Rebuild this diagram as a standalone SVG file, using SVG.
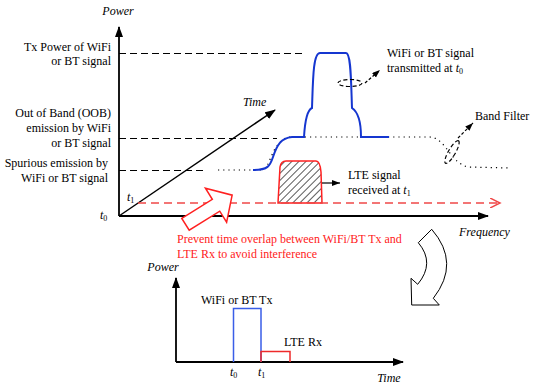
<svg xmlns="http://www.w3.org/2000/svg" width="540" height="390" viewBox="0 0 540 390">
<style>
text{font-family:"Liberation Serif","Times New Roman",serif;font-size:12px;fill:#000}
.it{font-style:italic}
.red{fill:#ff1a1a}
.sub{font-size:8px}
.dash{stroke:#000;stroke-width:1.2;stroke-dasharray:7 4;fill:none}
.dot{stroke:#000;stroke-width:1.2;stroke-dasharray:1.2 4;fill:none}
.axis{stroke:#000;stroke-width:1.8;fill:none}
</style>
<defs>
<marker id="ah" markerUnits="userSpaceOnUse" markerWidth="12" markerHeight="10" refX="10" refY="4" orient="auto"><path d="M0,0 L11,4 L0,8 Z" fill="#000"/></marker>
<marker id="ahs" markerUnits="userSpaceOnUse" markerWidth="10" markerHeight="8" refX="8" refY="3" orient="auto"><path d="M0,0 L8,3 L0,6 Z" fill="#000"/></marker>
<marker id="ahr" markerUnits="userSpaceOnUse" markerWidth="12" markerHeight="10" refX="10" refY="5" orient="auto"><path d="M0,0 L10,5 L0,10" fill="none" stroke="#f04848" stroke-width="1.5"/></marker>
<pattern id="hatch" patternUnits="userSpaceOnUse" width="5" height="5" patternTransform="rotate(45)"><rect width="5" height="5" fill="#fff"/><line x1="0" y1="0" x2="0" y2="5" stroke="#000" stroke-width="1.3"/></pattern>
</defs>
<rect width="540" height="390" fill="#fff"/>

<g id="levels">
<line class="dash" x1="119" y1="53.5" x2="303" y2="53.5"/>
<line class="dash" x1="119" y1="138.5" x2="277" y2="138.5"/>
<line class="dash" x1="119" y1="170.5" x2="207" y2="170.5"/>
</g>

<g id="band-filter">
<path class="dot" d="M218,170 L262,170 C271,169 271,140 290,137 L430,137 C446,138 450,163 468,167 L510,168"/>
<ellipse cx="452" cy="152" rx="13" ry="3.5" transform="rotate(-60 452 152)" class="dash" style="stroke-dasharray:4 2.5"/>
</g>

<g id="wifi-signal">
<path d="M253,170 C268,170 270,166 273,157 C277,145 281,138 292,137 L304,137 C305,120 307,110 312,108 C313,80 313,53 320,53 L346,53 C351,53 351,80 352,108 C358,112 361,120 361,137 L389,137" fill="none" stroke="#1536d0" stroke-width="2"/>
<ellipse cx="350" cy="83" rx="12" ry="3.5" class="dash" style="stroke-dasharray:4 2.5"/>
</g>

<g id="lte-signal">
<path d="M278,203 L280,167 Q281,161 286,161 L316,161 Q320,161 321,172 L322,203 Z" fill="url(#hatch)" stroke="#ff2020" stroke-width="1.5"/>
</g>

<g id="axes">
<line class="axis" x1="119" y1="216" x2="119" y2="27" marker-end="url(#ah)"/>
<line class="axis" x1="119" y1="216" x2="488" y2="216" marker-end="url(#ah)"/>
<line x1="119" y1="216" x2="275" y2="110" stroke="#000" stroke-width="1.5" marker-end="url(#ah)"/>
<line x1="138" y1="203" x2="500" y2="203" stroke="#f04848" stroke-width="1.5" stroke-dasharray="8 5" marker-end="url(#ahr)"/>
</g>

<g id="connectors">
<line x1="365" y1="83" x2="380" y2="70" stroke="#000" stroke-width="1.2" stroke-dasharray="3 2" marker-end="url(#ahs)"/>
<line x1="458" y1="138" x2="473" y2="123" stroke="#000" stroke-width="1.2" stroke-dasharray="3 2" marker-end="url(#ahs)"/>
<line x1="322" y1="183" x2="340" y2="183" stroke="#000" stroke-width="1.2" marker-end="url(#ahs)"/>
<polygon id="red-arrow" points="0,-7 36,-7 36,-20 55,0 36,20 36,7 0,7" transform="translate(185.5,224.3) rotate(-32)" fill="#fff" stroke="#ff2020" stroke-width="1.5"/>
<path id="curved-arrow" d="M431.7,229.3 Q460.9,263 433.3,298.3 L439.3,305 L411.7,305 L411,278.3 L417.7,284.3 Q435.4,263 418.3,242.7 Z" fill="#fff" stroke="#000" stroke-width="1"/>
</g>

<g id="labels">
<text class="it" x="118" y="15" text-anchor="middle">Power</text>
<text x="111" y="51" text-anchor="end">Tx Power of WiFi</text>
<text x="111" y="65" text-anchor="end">or BT signal</text>
<text x="111" y="117" text-anchor="end">Out of Band (OOB)</text>
<text x="111" y="132" text-anchor="end">emission by WiFi</text>
<text x="111" y="147" text-anchor="end">or BT signal</text>
<text x="108" y="167" text-anchor="end">Spurious emission by</text>
<text x="108" y="182" text-anchor="end">WiFi or BT signal</text>
<text class="it" x="243" y="106">Time</text>
<text x="127" y="201"><tspan class="it">t</tspan><tspan class="sub" dy="2">1</tspan></text>
<text x="100" y="219"><tspan class="it">t</tspan><tspan class="sub" dy="2">0</tspan></text>
<text class="it" x="459" y="236">Frequency</text>
<text x="387" y="57">WiFi or BT signal</text>
<text x="387" y="72">transmitted at <tspan class="it">t</tspan><tspan class="sub" dy="2">0</tspan></text>
<text x="475" y="120">Band Filter</text>
<text x="348" y="179">LTE signal</text>
<text x="348" y="194">received at <tspan class="it">t</tspan><tspan class="sub" dy="2">1</tspan></text>
<text class="red" x="177" y="243">Prevent time overlap between WiFi/BT Tx and</text>
<text class="red" x="177" y="258">LTE Rx to avoid interference</text>
</g>

<g id="time-chart">
<line class="axis" x1="176" y1="362" x2="176" y2="278" marker-end="url(#ah)"/>
<line class="axis" x1="176" y1="362" x2="403" y2="362" marker-end="url(#ah)"/>
<polyline points="233.5,362 233.5,308.5 261,308.5 261,362" fill="none" stroke="#3a5ee8" stroke-width="1.5"/>
<polyline points="261,362 261,351.5 290,351.5 290,362" fill="none" stroke="#ee2a2a" stroke-width="1.5"/>
<text class="it" x="163" y="271" text-anchor="middle">Power</text>
<text x="201" y="304">WiFi or BT Tx</text>
<text x="284" y="346">LTE Rx</text>
<text x="230" y="376"><tspan class="it">t</tspan><tspan class="sub" dy="2">0</tspan></text>
<text x="258" y="376"><tspan class="it">t</tspan><tspan class="sub" dy="2">1</tspan></text>
<text class="it" x="389" y="382" text-anchor="middle">Time</text>
</g>
</svg>
